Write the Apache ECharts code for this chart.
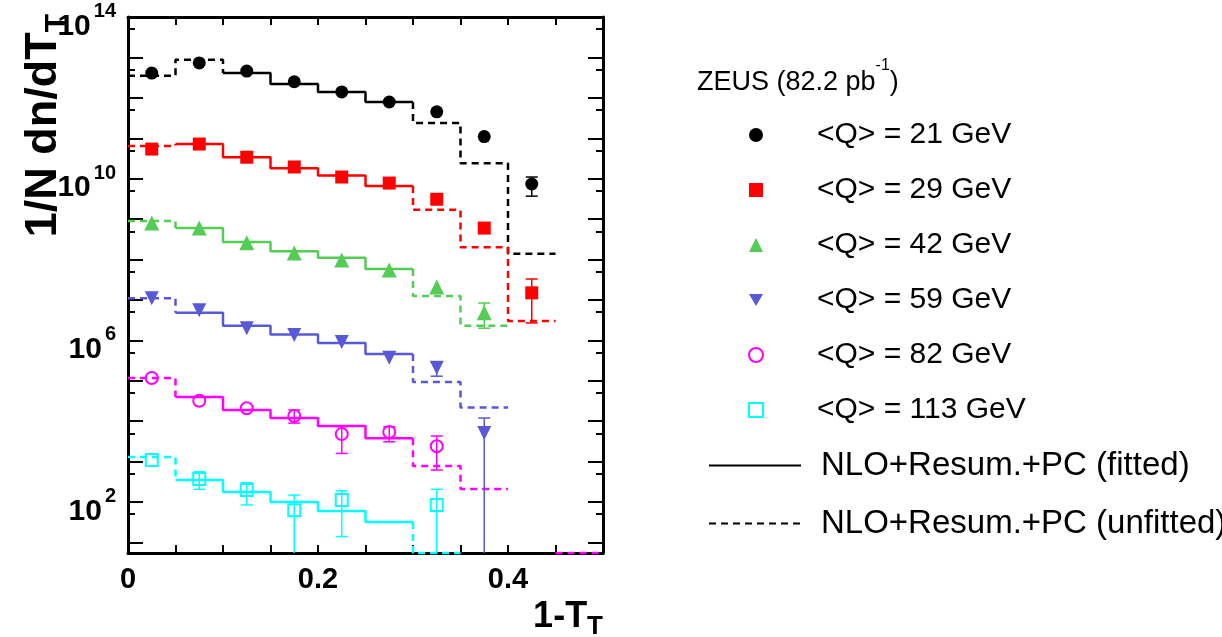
<!DOCTYPE html>
<html><head><meta charset="utf-8">
<script src="https://cdn.jsdelivr.net/npm/echarts@6/dist/echarts.min.js"></script>
<style>html,body{margin:0;padding:0;background:#fff}#c{width:1222px;height:637px}</style>
</head><body><div id="c"></div>
<script>
// ---------- data ----------
const binLow = [0, 0.05, 0.10, 0.15, 0.20, 0.25, 0.30, 0.35, 0.40, 0.45];
const BIN_W = 0.05;
const pointX = [0.025, 0.075, 0.125, 0.175, 0.225, 0.275, 0.325, 0.375, 0.425];
const seriesNames = ['<Q> = 21 GeV', '<Q> = 29 GeV', '<Q> = 42 GeV', '<Q> = 59 GeV', '<Q> = 82 GeV', '<Q> = 113 GeV'];
const lineNames = ['NLO+Resum.+PC (fitted)', 'NLO+Resum.+PC (unfitted)'];
const yLabelExponents = [2, 6, 10, 14];
const xLabelValues = [0, 0.2, 0.4];

// 1/N dn/dT_T values (1 = below plotted range)
const q21Points = [4.1e12, 7.3e12, 4.6e12, 2.5e12, 1.4e12, 7.9e11, 4.5e11, 1.1e11, 7.4e9];
const q21ErrLow = [null, null, null, null, null, null, null, null, 3.7e9];
const q21ErrHigh = [null, null, null, null, null, null, null, null, 1.1e10];
const q21Curve = [3.5e12, 8.7e12, 4.1e12, 2.2e12, 1.4e12, 7.9e11, 2.4e11, 2.4e10, 1.4e8, null];
const q21FitStart = 2;

const q29Points = [5.4e10, 7.2e10, 3.4e10, 1.95e10, 1.1e10, 7.8e9, 3.1e9, 6.0e8, 1.5e7];
const q29ErrLow = [null, null, null, null, null, null, null, null, 2.7e6];
const q29ErrHigh = [null, null, null, null, null, null, null, null, 3.3e7];
const q29Curve = [6.4e10, 7.2e10, 3.4e10, 1.8e10, 1.2e10, 6.6e9, 1.7e9, 2.0e8, 3.0e6, null];
const q29FitStart = 1;

const q42Points = [8.0e8, 6.0e8, 2.6e8, 1.45e8, 9.7e7, 5.5e7, 2.1e7, 4.8e6];
const q42ErrLow = [null, null, null, null, null, null, null, 2.0e6];
const q42ErrHigh = [null, null, null, null, null, null, null, 8.4e6];
const q42Curve = [9.0e8, 6.0e8, 2.7e8, 1.6e8, 1.1e8, 5.8e7, 1.25e7, 2.3e6, null, null];
const q42FitStart = 1;

const q59Points = [1.1e7, 5.6e6, 2.0e6, 1.36e6, 9.1e5, 3.7e5, 2.1e5, 5.1e3];
const q59ErrLow = [null, null, null, null, null, null, 1.3e5, 1];
const q59ErrHigh = [null, null, null, null, null, null, 2.9e5, 1.2e4];
const q59Curve = [1.1e7, 4.8e6, 2.3e6, 1.4e6, 8.6e5, 4.6e5, 9.3e4, 2.2e4, null, null];
const q59FitStart = 1;

const q82Points = [1.17e5, 3.2e4, 2.1e4, 1.35e4, 4.8e3, 5.4e3, 2.4e3];
const q82ErrLow = [null, null, null, 9.0e3, 1.6e3, 3.1e3, 620];
const q82ErrHigh = [null, null, null, 1.9e4, 7.3e3, 7.3e3, 4.3e3];
const q82Curve = [1.17e5, 4.0e4, 1.9e4, 1.2e4, 7.6e3, 3.8e3, 780, 210, null, 1];
const q82FitStart = 1;

const q113Points = [1.1e3, 372, 199, 63, 112, null, 85];
const q113ErrLow = [null, 207, 85, 1, 14, null, 1];
const q113ErrHigh = [null, 560, 300, 149, 190, null, 207];
const q113Curve = [1.3e3, 350, 177, 100, 60, 32, 1, null, null, null];
const q113FitStart = 1;

// ---------- styles ----------
const FONT = '"Liberation Sans", Arial, Helvetica, sans-serif';
const Y_MIN = Math.log10(5.5), Y_MAX = 14;
const FIT_END_BIN = 5;
const lg = v => Math.max(Math.log10(v), Y_MIN);

const sets = [
  {points: q21Points, lo: q21ErrLow, hi: q21ErrHigh, curve: q21Curve, fs: q21FitStart, color: '#000000', symbol: 'circle', size: 13, hollow: false},
  {points: q29Points, lo: q29ErrLow, hi: q29ErrHigh, curve: q29Curve, fs: q29FitStart, color: '#ff0000', symbol: 'rect', size: 13, hollow: false},
  {points: q42Points, lo: q42ErrLow, hi: q42ErrHigh, curve: q42Curve, fs: q42FitStart, color: '#55cc55', symbol: 'triangle', size: 15, hollow: false},
  {points: q59Points, lo: q59ErrLow, hi: q59ErrHigh, curve: q59Curve, fs: q59FitStart, color: '#5858d8', symbol: 'path://M0,0L2,0L1,1.732Z', size: 14, hollow: false},
  {points: q82Points, lo: q82ErrLow, hi: q82ErrHigh, curve: q82Curve, fs: q82FitStart, color: '#ff00ff', symbol: 'circle', size: 12, hollow: true},
  {points: q113Points, lo: q113ErrLow, hi: q113ErrHigh, curve: q113Curve, fs: q113FitStart, color: '#00ffff', symbol: 'rect', size: 12, hollow: true}
];

function stepPts(curve, from, to) {
  const pts = [];
  for (let i = from; i <= to; i++) {
    const y = lg(curve[i]);
    pts.push([binLow[i], y], [binLow[i] + BIN_W, y]);
  }
  return pts;
}
function curveParts(curve, fs) {
  const fe = FIT_END_BIN;
  const solid = stepPts(curve, fs, fe);
  const dashed = [];
  if (fs > 0) {
    const p = stepPts(curve, 0, fs - 1);
    p.push([binLow[fs], lg(curve[fs])]);
    dashed.push(p);
  }
  let cur = [[binLow[fe] + BIN_W, lg(curve[fe])]];
  for (let i = fe + 1; i < curve.length; i++) {
    if (curve[i] == null) { if (cur.length > 1) dashed.push(cur); cur = []; continue; }
    const y = lg(curve[i]);
    cur.push([binLow[i], y], [binLow[i] + BIN_W, y]);
  }
  if (cur.length > 1) dashed.push(cur);
  return {solid, dashed};
}

const DASH = [7, 5];
const series = [];
sets.forEach((s, k) => {
  const parts = curveParts(s.curve, s.fs);
  series.push({type: 'line', name: 'fit' + k, data: parts.solid, symbol: 'none', clip: false, z: 2,
    lineStyle: {color: s.color, width: 2.5, type: 'solid'}, silent: true});
  parts.dashed.forEach((d, j) => series.push({type: 'line', name: 'unfit' + k + '_' + j, data: d, symbol: 'none', clip: false, z: 2,
    lineStyle: {color: s.color, width: 2.5, type: DASH}, silent: true}));
});
sets.forEach((s, k) => {
  const eb = [];
  s.points.forEach((v, i) => {
    if (v == null || s.lo[i] == null) return;
    eb.push([pointX[i], lg(s.lo[i]), lg(s.hi[i]), Math.log10(s.lo[i]) < Y_MIN ? 1 : 0]);
  });
  series.push({type: 'custom', name: 'err' + k, data: eb, z: 3, clip: false, silent: true,
    encode: {x: 0, y: [1, 2]},
    renderItem: (params, api) => {
      const x = api.value(0);
      const pl = api.coord([x, api.value(1)]);
      const ph = api.coord([x, api.value(2)]);
      const cap = 6;
      const st = {stroke: s.color, lineWidth: 1.5};
      const ch = [
        {type: 'line', shape: {x1: pl[0], y1: pl[1], x2: ph[0], y2: ph[1]}, style: st},
        {type: 'line', shape: {x1: ph[0] - cap, y1: ph[1], x2: ph[0] + cap, y2: ph[1]}, style: st}
      ];
      if (!api.value(3)) ch.push({type: 'line', shape: {x1: pl[0] - cap, y1: pl[1], x2: pl[0] + cap, y2: pl[1]}, style: st});
      return {type: 'group', children: ch};
    }});
});
sets.forEach((s, k) => {
  const d = [];
  s.points.forEach((v, i) => { if (v != null) d.push([pointX[i], lg(v)]); });
  series.push({type: 'scatter', name: seriesNames[k], data: d, symbol: s.symbol, symbolSize: s.size, z: 4, clip: false,
    itemStyle: s.hollow ? {color: 'rgba(0,0,0,0)', borderColor: s.color, borderWidth: 2, opacity: 1}
                        : {color: s.color, opacity: 1}});
});
series.push({type: 'line', name: lineNames[0], data: [], symbol: 'none', symbolSize: 0, showSymbol: false,
  lineStyle: {color: '#000', width: 2, type: 'solid'}, itemStyle: {color: '#000'}});
series.push({type: 'line', name: lineNames[1], data: [], symbol: 'none', symbolSize: 0, showSymbol: false,
  lineStyle: {color: '#000', width: 2, type: DASH}, itemStyle: {color: '#000'}});

const intExps = []; for (let n = 1; n <= 14; n++) intExps.push(n);
const minorExps = []; for (let n = 1; n <= 14; n++) { const v = n - Math.log10(2); if (v > Y_MIN) minorExps.push(v); }

const baseY = {type: 'value', min: Y_MIN, max: Y_MAX, splitLine: {show: false}};
const yAxes = [
  Object.assign({}, baseY, {position: 'left',
    axisLine: {show: true, lineStyle: {color: '#000', width: 3}},
    axisTick: {show: true, inside: true, length: 15, lineStyle: {color: '#000', width: 2}, customValues: intExps},
    axisLabel: {show: true, customValues: yLabelExponents, margin: 12, padding: [9, 0, 0, 0],
      fontFamily: FONT, fontSize: 30, fontWeight: 'bold', color: '#000',
      formatter: v => '{b|10}{s|' + Math.round(v) + '}',
      rich: {b: {fontFamily: FONT, fontSize: 30, fontWeight: 'bold', color: '#000', lineHeight: 40, verticalAlign: 'bottom'},
             s: {fontFamily: FONT, fontSize: 20, fontWeight: 'bold', color: '#000', lineHeight: 20, verticalAlign: 'top', padding: [0, 0, 0, 3]}}}}),
  Object.assign({}, baseY, {position: 'left', axisLine: {show: false},
    axisTick: {show: true, inside: true, length: 7, lineStyle: {color: '#000', width: 2}, customValues: minorExps},
    axisLabel: {show: false}}),
  Object.assign({}, baseY, {position: 'right',
    axisLine: {show: true, lineStyle: {color: '#000', width: 3}},
    axisTick: {show: true, inside: true, length: 15, lineStyle: {color: '#000', width: 2}, customValues: intExps},
    axisLabel: {show: false}}),
  Object.assign({}, baseY, {position: 'right', axisLine: {show: false},
    axisTick: {show: true, inside: true, length: 7, lineStyle: {color: '#000', width: 2}, customValues: minorExps},
    axisLabel: {show: false}})
];
const xAxes = [
  {type: 'value', position: 'bottom', min: 0, max: 0.5, interval: 0.05, splitLine: {show: false},
   axisLine: {show: true, lineStyle: {color: '#000', width: 3}},
   axisTick: {show: true, inside: true, length: 8, lineStyle: {color: '#000', width: 2}},
   axisLabel: {show: true, margin: 12, fontFamily: FONT, fontSize: 29, fontWeight: 'bold', color: '#000',
     formatter: v => { const t = Math.round(v * 100); return xLabelValues.some(x => Math.round(x * 100) === t) ? (t === 0 ? '0' : (t / 100).toFixed(1)) : ''; }}},
  {type: 'value', position: 'top', min: 0, max: 0.5, interval: 0.05, splitLine: {show: false},
   axisLine: {show: true, lineStyle: {color: '#000', width: 3}},
   axisTick: {show: true, inside: true, length: 8, lineStyle: {color: '#000', width: 2}},
   axisLabel: {show: false}}
];

const chart = echarts.init(document.getElementById('c'), null, {renderer: 'canvas'});
chart.setOption({
  animation: false,
  backgroundColor: '#fff',
  grid: {left: 128, right: 1222 - 603, top: 17, bottom: 637 - 553, containLabel: false, outerBoundsMode: 'none'},
  xAxis: xAxes,
  yAxis: yAxes,
  legend: [
    {data: seriesNames, orient: 'vertical', left: 743, top: 115, itemWidth: 14, itemHeight: 14, itemGap: 25,
     selectedMode: false, formatter: n => '{t|' + n + '}',
     textStyle: {color: '#000', rich: {t: {fontFamily: FONT, fontSize: 30, lineHeight: 30, color: '#000', padding: [0, 0, 0, 49]}}}},
    {data: lineNames, orient: 'vertical', left: 703, top: 444, itemWidth: 92, itemHeight: 14, itemGap: 25,
     selectedMode: false, formatter: n => '{t|' + n + '}',
     itemStyle: {color: 'rgba(0,0,0,0)', borderWidth: 0, opacity: 0},
     lineStyle: {color: '#000', width: 2, opacity: 1},
     textStyle: {color: '#000', rich: {t: {fontFamily: FONT, fontSize: 33, lineHeight: 30, color: '#000', padding: [0, 0, 0, 15]}}}}
  ],
  graphic: [
    {type: 'text', left: 697, top: 58, silent: true,
     style: {text: '{a|ZEUS (82.2 pb}{s|-1}{a|)}',
       rich: {a: {fontFamily: FONT, fontSize: 27, color: '#000', lineHeight: 38, verticalAlign: 'bottom'},
              s: {fontFamily: FONT, fontSize: 16, color: '#000', lineHeight: 18, verticalAlign: 'top'}}}},
    {type: 'text', x: 46.5, y: 14, rotation: Math.PI / 2, silent: true,
     style: {text: '{a|1/N dn/dT}{b|T}', align: 'right', verticalAlign: 'middle',
       rich: {a: {fontFamily: FONT, fontSize: 45, fontWeight: 'bold', color: '#000', lineHeight: 45, verticalAlign: 'top'},
              b: {fontFamily: FONT, fontSize: 30, fontWeight: 'bold', color: '#000', lineHeight: 50, verticalAlign: 'bottom'}}}},
    {type: 'text', x: 603, y: 619.5, silent: true,
     style: {text: '{a|1-T}{b|T}', align: 'right', verticalAlign: 'middle',
       rich: {a: {fontFamily: FONT, fontSize: 36, fontWeight: 'bold', color: '#000', lineHeight: 36, verticalAlign: 'top'},
              b: {fontFamily: FONT, fontSize: 26, fontWeight: 'bold', color: '#000', lineHeight: 41, verticalAlign: 'bottom'}}}}
  ],
  series: series
});
</script></body></html>
